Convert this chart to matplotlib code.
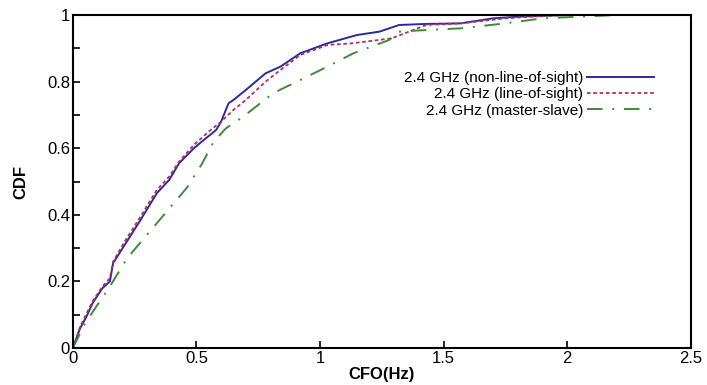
import matplotlib.pyplot as plt
from matplotlib.ticker import MultipleLocator

plt.rcParams['font.family'] = ['Liberation Sans', 'DejaVu Sans']

# 2.4 GHz (non-line-of-sight)
nlos_x = [0, 0.03, 0.055, 0.08, 0.12, 0.15, 0.163, 0.21, 0.27, 0.34, 0.39, 0.43, 0.49, 0.514,
          0.58, 0.60, 0.63, 0.65, 0.70, 0.78, 0.84, 0.92, 1.03, 1.15, 1.24, 1.32, 1.42, 1.57,
          1.70, 1.80, 2.0, 2.2]
nlos_y = [0, 0.06, 0.094, 0.135, 0.18, 0.2, 0.255, 0.31, 0.38, 0.465, 0.505, 0.555, 0.60, 0.615,
          0.655, 0.68, 0.735, 0.745, 0.775, 0.825, 0.845, 0.885, 0.915, 0.94, 0.95, 0.97, 0.973,
          0.975, 0.99, 0.995, 1.0, 1.0]

# 2.4 GHz (line-of-sight)
los_x = [0, 0.03, 0.08, 0.12, 0.15, 0.163, 0.21, 0.27, 0.34, 0.39, 0.43, 0.49, 0.55, 0.60,
         0.65, 0.70, 0.78, 0.84, 0.92, 1.03, 1.13, 1.29, 1.43, 1.57, 1.75, 1.85, 2.0, 2.2]
los_y = [0, 0.065, 0.14, 0.185, 0.21, 0.26, 0.32, 0.39, 0.475, 0.515, 0.56, 0.61, 0.65, 0.68,
         0.715, 0.745, 0.80, 0.835, 0.88, 0.91, 0.915, 0.93, 0.97, 0.975, 0.99, 0.995, 1.0, 1.0]

# 2.4 GHz (master-slave)
ms_x = [0, 0.05, 0.10, 0.15, 0.22, 0.30, 0.38, 0.46, 0.52, 0.57, 0.62, 0.69, 0.81, 0.92,
        1.03, 1.135, 1.28, 1.32, 1.43, 1.57, 1.75, 1.9, 2.05, 2.2]
ms_y = [0, 0.075, 0.13, 0.185, 0.27, 0.34, 0.41, 0.48, 0.55, 0.62, 0.66, 0.695, 0.765, 0.805,
        0.845, 0.885, 0.925, 0.95, 0.955, 0.96, 0.975, 0.99, 0.995, 1.0]

fig = plt.figure(figsize=(7.07, 3.85), dpi=100)
ax = fig.add_axes([0.103, 0.096, 0.874, 0.865])

ax.plot(nlos_x, nlos_y, color='#2b2b9a', lw=1.4, label='2.4 GHz (non-line-of-sight)')
ax.plot(los_x, los_y, color='#b0305a', lw=1.3, linestyle=(0, (2, 1.5)),
        label='2.4 GHz (line-of-sight)')
ax.plot(ms_x, ms_y, color='#3f8a3a', lw=1.4, linestyle=(0, (8, 5, 1, 5)),
        label='2.4 GHz (master-slave)')

ax.set_xlim(0, 2.5)
ax.set_ylim(0, 1)
ax.yaxis.set_minor_locator(MultipleLocator(0.1))
ax.set_xticks([0, 0.5, 1, 1.5, 2, 2.5])
ax.set_xticklabels(['0', '0.5', '1', '1.5', '2', '2.5'])
ax.set_yticks([0, 0.2, 0.4, 0.6, 0.8, 1])
ax.set_yticklabels(['0', '0.2', '0.4', '0.6', '0.8', '1'])
ax.tick_params(which='both', direction='in', labelsize=12, width=1.2)
ax.tick_params(which='major', length=5, pad=2)
ax.tick_params(which='minor', length=5)
for s in ax.spines.values():
    s.set_linewidth(1.5)

ax.set_xlabel('CFO(Hz)', fontsize=12, fontweight='bold', labelpad=1)
ax.set_ylabel('CDF', fontsize=12, fontweight='bold', labelpad=13)

ax.legend(loc='upper right', bbox_to_anchor=(0.95, 0.85), frameon=False,
          markerfirst=False, fontsize=11, handlelength=4.4, handletextpad=0.2,
          labelspacing=0.15, borderaxespad=0)

fig.savefig('out.png', dpi=100)
